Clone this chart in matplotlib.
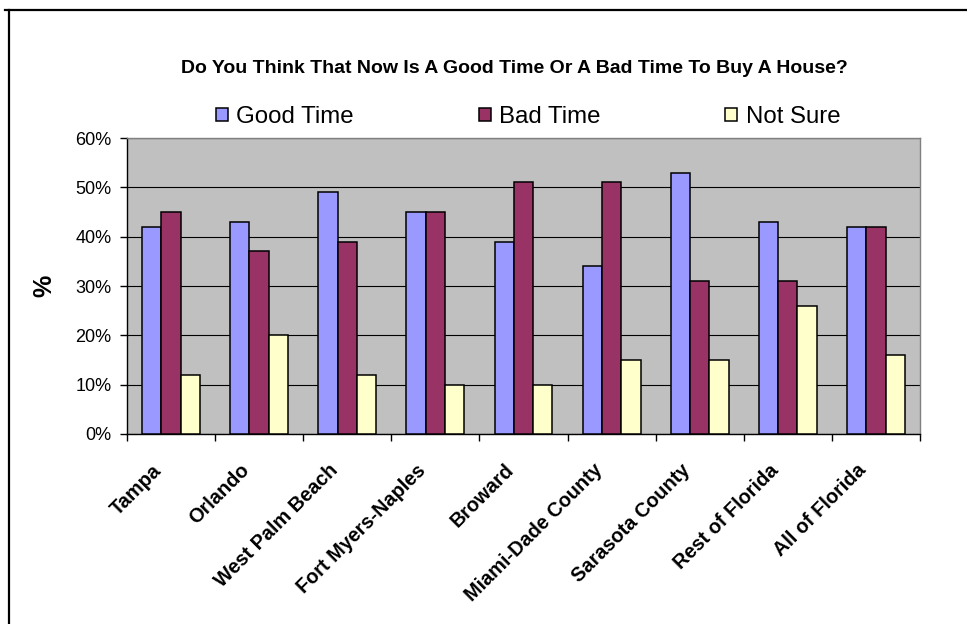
import matplotlib
matplotlib.use("Agg")
import matplotlib.pyplot as plt
import numpy as np
from matplotlib.lines import Line2D
from matplotlib.ticker import FixedLocator, PercentFormatter

plt.rcParams['font.family'] = ['Liberation Sans', 'DejaVu Sans']

regions = ["Tampa", "Orlando", "West Palm Beach", "Fort Myers-Naples", "Broward",
           "Miami-Dade County", "Sarasota County", "Rest of Florida", "All of Florida"]
good_time = [42, 43, 49, 45, 39, 34, 53, 43, 42]
bad_time = [45, 37, 39, 45, 51, 51, 31, 31, 42]
not_sure = [12, 20, 12, 10, 10, 15, 15, 26, 16]
series_names = ["Good Time", "Bad Time", "Not Sure"]
series_colors = ["#9999FF", "#993366", "#FFFFCC"]
y_ticks = [0, 10, 20, 30, 40, 50, 60]

fig = plt.figure(figsize=(9.67, 6.24), dpi=100)
ax = fig.add_axes([0.1313, 0.3045, 0.8201, 0.4743])
ax.set_facecolor("#C0C0C0")

x = np.arange(len(regions))
bw = 0.219
for i, (vals, name, col) in enumerate(zip([good_time, bad_time, not_sure], series_names, series_colors)):
    ax.bar(x + (i - 1) * bw, vals, width=bw, color=col, edgecolor="black",
           linewidth=1.1, label=name, zorder=3)

ax.set_xlim(-0.5, len(regions) - 0.5)
ax.set_ylim(0, 60)
ax.set_yticks(y_ticks)
ax.yaxis.set_major_formatter(PercentFormatter(decimals=0))
ax.yaxis.grid(True, color="black", linewidth=0.8, zorder=1)
ax.set_axisbelow(True)

# rotated category labels sit a little left of each group centre
label_offset = 0.14
ax.set_xticks(x - label_offset)
ax.set_xticklabels(regions, rotation=45, ha="right", va="center",
                   rotation_mode="anchor", fontsize=14.3, fontweight="bold")
ax.xaxis.set_minor_locator(FixedLocator(np.arange(-0.5, len(regions), 1.0)))
ax.tick_params(axis="x", which="major", length=0, pad=24)
ax.tick_params(axis="x", which="minor", length=5, width=1, direction="out", color="black")
ax.tick_params(axis="y", length=5, width=1, direction="out", labelsize=13, pad=6)

for side in ("left", "bottom"):
    ax.spines[side].set_color("black")
    ax.spines[side].set_linewidth(1.0)
for side in ("top", "right"):
    ax.spines[side].set_color("#808080")
    ax.spines[side].set_linewidth(1.0)

ax.set_ylabel("%", fontsize=18, fontweight="bold", labelpad=14)

fig.text(0.532, 0.890, "Do You Think That Now Is A Good Time Or A Bad Time To Buy A House?",
         ha="center", va="center", fontsize=14.0, fontweight="bold")

ax.legend(loc="center", bbox_to_anchor=(0.546, 0.8125), bbox_transform=fig.transFigure,
          ncol=3, frameon=False, fontsize=17.3, handlelength=0.5, handleheight=0.5,
          handletextpad=0.35, columnspacing=5.2)

# outer frame lines
fig.add_artist(Line2D([0.0093, 0.0093], [0.0, 0.984], color="black", linewidth=1.6,
                      transform=fig.transFigure))
fig.add_artist(Line2D([0.005, 1.0], [0.984, 0.984], color="black", linewidth=1.6,
                      transform=fig.transFigure))

fig.savefig("out.png", dpi=100)
